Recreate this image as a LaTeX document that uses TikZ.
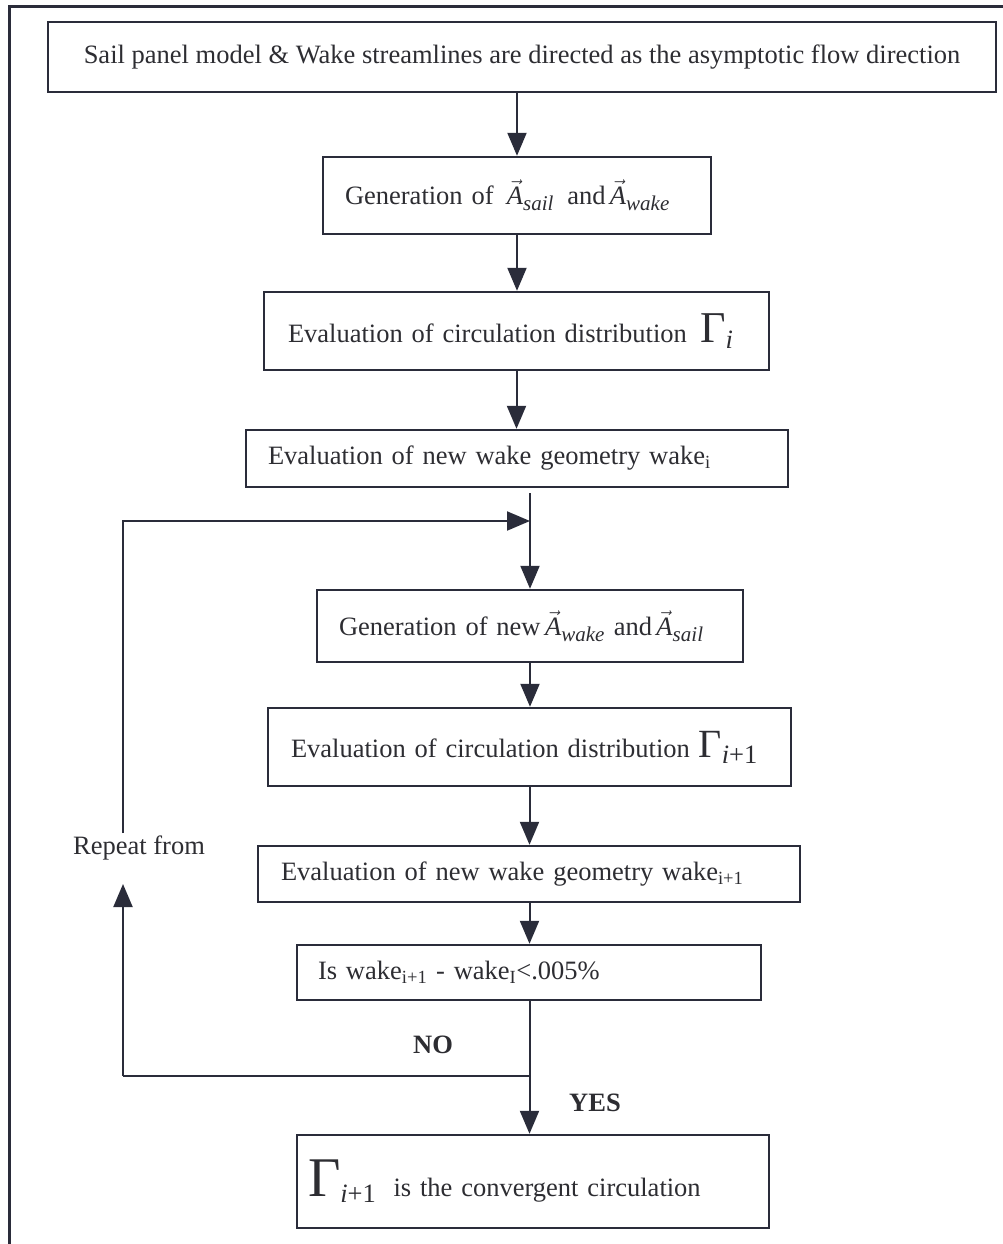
\documentclass[tikz,border=0pt]{standalone}
\usepackage{fontspec}
\setmainfont{Liberation Serif}
\usetikzlibrary{arrows.meta,calc}
\definecolor{ink}{RGB}{42,44,58}
\definecolor{txt}{RGB}{45,45,50}
\newcommand{\vA}[1]{$\vec{\mbox{\textit{A}}}_{\mbox{\fontsize{21}{21}\selectfont\textit{#1}}}$}
\newcommand{\Gm}[2]{{\fontsize{#1}{#1}\selectfont Γ}\raisebox{-0.5ex}{#2}}
\tikzset{
  box/.style={draw=ink, line width=2.4pt, text=txt, inner ysep=0pt,
    font=\fontsize{26.5}{30}\selectfont},
  lbox/.style={box, align=left},
  cbox/.style={box, align=center},
  arr/.style={draw=ink, line width=2pt, -{Triangle[width=19pt,length=23pt]}},
  ln/.style={draw=ink, line width=2pt},
  lab/.style={text=txt, font=\fontsize{26.5}{30}\selectfont, inner sep=0pt},
}
\begin{document}
\begin{tikzpicture}[x=1pt,y=-1pt]
\useasboundingbox (0,0) rectangle (1003,1244);
\fill[white] (0,0) rectangle (1003,1244);
% outer frame (left and top edges visible)
\draw[draw=ink, line width=3pt] (9,1244) -- (9,7) -- (1003,7);

\node[cbox, minimum width=948, minimum height=70] (b1) at (522,57)
  {Sail panel model \& Wake streamlines are directed as the asymptotic flow direction};
\node[lbox, inner xsep=22, text width=344, minimum height=77] (b2) at (517,195.5)
  {Generation of \,\vA{sail} \,and\,\vA{wake}};
\node[lbox, inner xsep=24, text width=457, minimum height=78] (b3) at (516.5,331)
  {Evaluation of circulation distribution \,\Gm{44}{\textit{i}}};
\node[lbox, inner xsep=22, text width=498, minimum height=57] (b4) at (517,458.5)
  {Evaluation of new wake geometry wake\textsubscript{i}};
\node[lbox, inner xsep=22, text width=382, minimum height=72] (b5) at (530,626)
  {Generation of new\,\vA{wake} and\,\vA{sail}};
\node[lbox, inner xsep=23, text width=477, minimum height=78] (b6) at (529.5,747)
  {Evaluation of circulation distribution \Gm{40}{\textit{i}+1}};
\node[lbox, inner xsep=23, text width=496, minimum height=56] (b7) at (529,874)
  {Evaluation of new wake geometry wake\textsubscript{i+1}};
\node[lbox, inner xsep=21, text width=422, minimum height=55] (b8) at (529,972.5)
  {Is wake\textsubscript{i+1} - wake\textsubscript{I}<.005\%};
\node[lbox, inner xsep=11, text width=450, minimum height=93] (b9) at (533,1181.5)
  {\Gm{56}{\textit{i}+1} \ is the convergent circulation};

\node[lab] (rep) at (139,848) {Repeat from};
\node[lab, font=\fontsize{26.5}{30}\selectfont\bfseries] (no) at (433,1045) {NO};
\node[lab, font=\fontsize{26.5}{30}\selectfont\bfseries] (yes) at (595,1103) {YES};

\coordinate (j) at (b8.south |- 0,1076);
\coordinate (l1) at (123,1076);
\coordinate (l2) at (123,521);
\coordinate (m) at (b5.north |- 0,521);
\coordinate (r1) at (123,884);
\coordinate (r2) at (123,833);

\draw[arr] (b2.north |- b1.south) -- (b2.north);
\draw[arr] (b2.south) -- (b2.south |- b3.north);
\draw[arr] (b3.south) -- (b3.south |- b4.north);
\draw[arr] ($(b5.north |- b4.south)+(0,5)$) -- (b5.north);
\draw[arr] (b5.north |- b5.south) -- (b6.north -| b5.north);
\draw[arr] (b6.north |- b6.south) -- (b6.north |- b7.north);
\draw[arr] (b6.north |- b7.south) -- (b6.north |- b8.north);
\draw[arr] (b6.north |- b8.south) -- (b6.north |- b9.north);
\draw[ln] (j) -- (l1);
\draw[arr] (l1) -- (r1);
\draw[arr] (r2) -- (l2) -- (m);
\end{tikzpicture}
\end{document}
